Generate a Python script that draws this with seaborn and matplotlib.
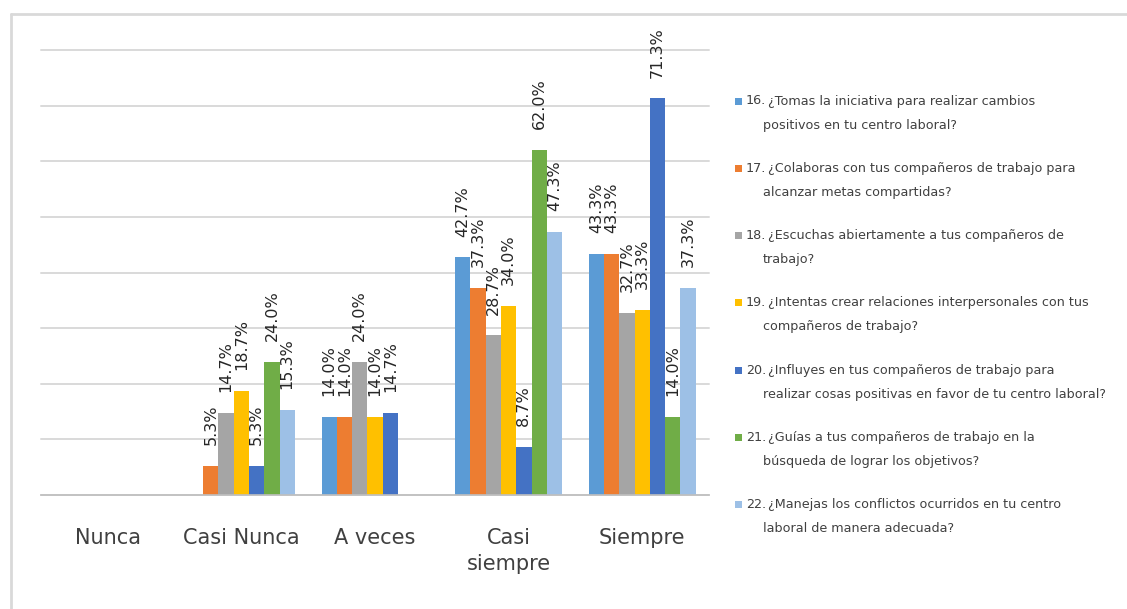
import matplotlib
matplotlib.use("Agg")
import matplotlib.pyplot as plt
from matplotlib import font_manager
from matplotlib.patches import Rectangle
from matplotlib.lines import Line2D
import seaborn as sns
import pandas as pd

# Response categories (x axis)
respuestas = ["Nunca", "Casi Nunca", "A veces", "Casi siempre", "Siempre"]
respuestas_etiqueta = ["Nunca", "Casi Nunca", "A veces", "Casi\nsiempre", "Siempre"]

# Survey items (one series per item)
preguntas = ["16.", "17.", "18.", "19.", "20.", "21.", "22."]
textos = [
    ("¿Tomas la iniciativa para realizar cambios", "positivos en tu centro laboral?"),
    ("¿Colaboras con tus compañeros de trabajo para", "alcanzar metas compartidas?"),
    ("¿Escuchas abiertamente a tus compañeros de", "trabajo?"),
    ("¿Intentas crear relaciones interpersonales con tus", "compañeros de trabajo?"),
    ("¿Influyes en tus compañeros de trabajo para", "realizar cosas positivas en favor de tu centro laboral?"),
    ("¿Guías a tus compañeros de trabajo en la", "búsqueda de lograr los objetivos?"),
    ("¿Manejas los conflictos ocurridos en tu centro", "laboral de manera adecuada?"),
]

# Percentages per item, in the order of `respuestas`
p16 = [0.0, 0.0, 14.0, 42.7, 43.3]
p17 = [0.0, 5.3, 14.0, 37.3, 43.3]
p18 = [0.0, 14.7, 24.0, 28.7, 32.7]
p19 = [0.0, 18.7, 14.0, 34.0, 33.3]
p20 = [0.0, 5.3, 14.7, 8.7, 71.3]
p21 = [0.0, 24.0, 0.0, 62.0, 14.0]
p22 = [0.0, 15.3, 0.0, 47.3, 37.3]
series = [p16, p17, p18, p19, p20, p21, p22]

colores = ["#5B9BD5", "#ED7D31", "#A5A5A5", "#FFC000", "#4472C4", "#70AD47", "#9DC0E6"]

filas = []
for preg, valores in zip(preguntas, series):
    for resp, v in zip(respuestas, valores):
        filas.append({"respuesta": resp, "pregunta": preg, "porcentaje": v})
df = pd.DataFrame(filas)

sns.set_theme(style="white")
nombres = {f.name for f in font_manager.fontManager.ttflist}
narrow = "Liberation Sans Narrow" in nombres
fuente_estrecha = "Liberation Sans Narrow" if narrow else "DejaVu Sans"
plt.rcParams["font.family"] = ["DejaVu Sans"]

W, H = 1127, 609
fig = plt.figure(figsize=(W / 100, H / 100), dpi=100)
fig.patch.set_facecolor("white")

def fx(px):
    return px / W

def fy(py):
    return 1 - py / H

ax = fig.add_axes([fx(41), fy(495), fx(709) - fx(41), fy(50) - fy(495)])

sns.barplot(
    data=df, x="respuesta", y="porcentaje", hue="pregunta",
    order=respuestas, hue_order=preguntas, palette=colores,
    saturation=1, width=0.8, gap=0, errorbar=None, legend=False, ax=ax,
    linewidth=0, edgecolor="none",
)

for cont in ax.containers:
    etiquetas = [f"{v:.1f}%" if v > 0 else "" for v in cont.datavalues]
    ax.bar_label(cont, labels=etiquetas, rotation=90, padding=15,
                 fontsize=11.5, color="#262626", family="DejaVu Sans")

ax.set_xlim(-0.5, len(respuestas) - 0.5)
ax.set_ylim(0, 80)
ax.set_yticks(range(0, 81, 10))
ax.set_yticklabels([])
ax.tick_params(axis="y", length=0)
ax.yaxis.grid(True, color="#D9D9D9", linewidth=1.4)
for gl in ax.get_ygridlines():
    gl.set_clip_on(False)
ax.set_axisbelow(True)
for s in ["top", "right", "left"]:
    ax.spines[s].set_visible(False)
ax.spines["bottom"].set_color("#BFBFBF")
ax.spines["bottom"].set_linewidth(1.2)

ax.set_xticks(range(len(respuestas)))
ax.set_xticks([i - 0.5 for i in range(len(respuestas) + 1)], minor=True)
ax.set_xticklabels(respuestas_etiqueta, fontsize=20 if narrow else 15,
                   family=fuente_estrecha, color="#404040", linespacing=1.35)
ax.tick_params(axis="x", which="major", length=0, pad=24)
ax.tick_params(axis="x", which="minor", length=8, width=1.2, color="#BFBFBF")
ax.set_xlabel("")
ax.set_ylabel("")

# Outer chart frame
fig.add_artist(Line2D([fx(11), 1], [fy(14), fy(14)], color="#D9D9D9", linewidth=2))
fig.add_artist(Line2D([fx(11), fx(11)], [fy(14), 0], color="#D9D9D9", linewidth=2))

# Legend on the right
y0, paso, interlinea = 101, 67.3, 24
tam_ley = 11.5 if narrow else 9.2
for i, (num, (l1, l2)) in enumerate(zip(preguntas, textos)):
    y = y0 + i * paso
    fig.add_artist(Rectangle((fx(735), fy(y + 3.5)), fx(7), 7 / H,
                             facecolor=colores[i], edgecolor="none"))
    fig.text(fx(746), fy(y), num, fontsize=tam_ley, family=fuente_estrecha,
             color="#404040", va="center", ha="left")
    fig.text(fx(768), fy(y), l1, fontsize=tam_ley, family=fuente_estrecha,
             color="#404040", va="center", ha="left")
    fig.text(fx(763), fy(y + interlinea), l2, fontsize=tam_ley, family=fuente_estrecha,
             color="#404040", va="center", ha="left")

fig.savefig("out.png", dpi=100, facecolor="white")
